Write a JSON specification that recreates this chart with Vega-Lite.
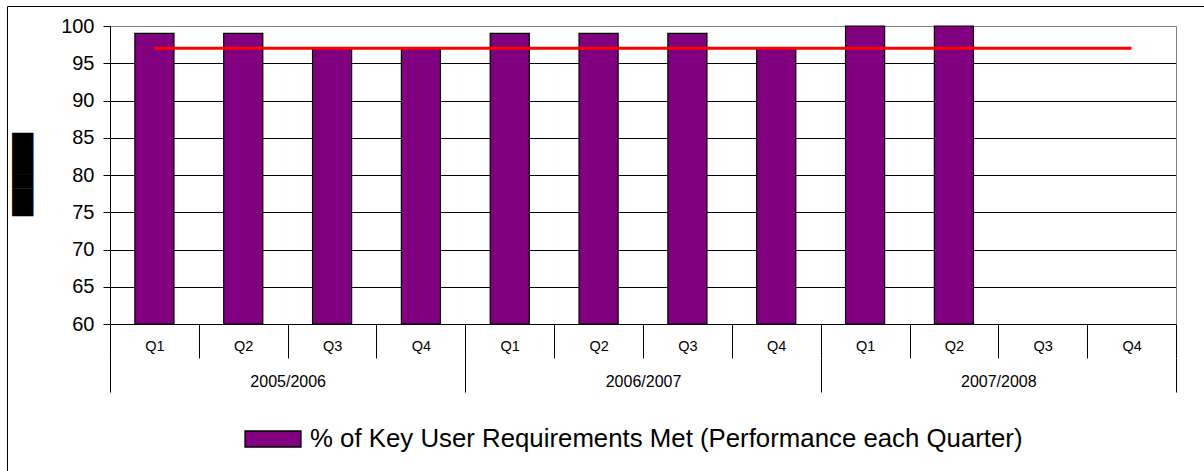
{
  "$schema": "https://vega.github.io/schema/vega-lite/v6.json",
  "width": 1200,
  "height": 470,
  "autosize": {"type": "none"},
  "padding": {"left": 7, "top": 6, "right": 0, "bottom": 0},
  "background": "#ffffff",
  "config": {
    "view": {"stroke": "#000000", "strokeWidth": 1},
    "font": "Liberation Sans",
    "axis": {"labelFont": "Liberation Sans", "labelColor": "#000000", "tickColor": "#000000", "domainColor": "#000000"}
  },
  "layer": [
    {
      "data": {
        "values": [
          {"key": "2005/2006 Q1", "pct": 99, "target": 97, "series": "% of Key User Requirements Met (Performance each Quarter)"},
          {"key": "2005/2006 Q2", "pct": 99, "target": 97, "series": "% of Key User Requirements Met (Performance each Quarter)"},
          {"key": "2005/2006 Q3", "pct": 97, "target": 97, "series": "% of Key User Requirements Met (Performance each Quarter)"},
          {"key": "2005/2006 Q4", "pct": 97, "target": 97, "series": "% of Key User Requirements Met (Performance each Quarter)"},
          {"key": "2006/2007 Q1", "pct": 99, "target": 97, "series": "% of Key User Requirements Met (Performance each Quarter)"},
          {"key": "2006/2007 Q2", "pct": 99, "target": 97, "series": "% of Key User Requirements Met (Performance each Quarter)"},
          {"key": "2006/2007 Q3", "pct": 99, "target": 97, "series": "% of Key User Requirements Met (Performance each Quarter)"},
          {"key": "2006/2007 Q4", "pct": 97, "target": 97, "series": "% of Key User Requirements Met (Performance each Quarter)"},
          {"key": "2007/2008 Q1", "pct": 100, "target": 97, "series": "% of Key User Requirements Met (Performance each Quarter)"},
          {"key": "2007/2008 Q2", "pct": 100, "target": 97, "series": "% of Key User Requirements Met (Performance each Quarter)"},
          {"key": "2007/2008 Q3", "pct": null, "target": 97, "series": "% of Key User Requirements Met (Performance each Quarter)"},
          {"key": "2007/2008 Q4", "pct": null, "target": 97, "series": "% of Key User Requirements Met (Performance each Quarter)"}
        ]
      },
      "encoding": {
        "x": {
          "field": "key",
          "type": "nominal",
          "sort": null,
          "scale": {"range": [103, 1169], "paddingInner": 0, "paddingOuter": 0},
          "axis": {
            "orient": "bottom",
            "offset": -152,
            "tickBand": "extent",
            "tickSize": 34,
            "labelExpr": "split(datum.label, ' ')[1]",
            "labelFontSize": 14.5,
            "labelPadding": -19,
            "labelAngle": 0,
            "title": null,
            "grid": false
          }
        }
      },
      "layer": [
        {
          "mark": {"type": "bar", "width": {"band": 0.44}, "stroke": "#000000", "strokeWidth": 1.2},
          "encoding": {
            "y": {
              "field": "pct",
              "type": "quantitative",
              "scale": {"domain": [60, 100], "range": [318, 20], "zero": false, "nice": false},
              "axis": {
                "orient": "left",
                "offset": -103,
                "values": [60, 65, 70, 75, 80, 85, 90, 95, 100],
                "tickSize": 7,
                "labelFontSize": 20,
                "labelPadding": 9,
                "grid": true,
                "gridColor": {"condition": {"test": "datum.value === 100", "value": "#808080"}, "value": "#000000"},
                "gridOpacity": 1,
                "title": "██████",
                "titleFont": "DejaVu Sans",
                "titleFontSize": 18,
                "titleColor": "#000000",
                "titleAngle": -90,
                "titleX": -87,
                "titleY": 168,
                "titleAlign": "center",
                "titleBaseline": "middle"
              }
            },
            "y2": {"datum": 60},
            "color": {
              "field": "series",
              "type": "nominal",
              "scale": {"range": ["#800080"]},
              "legend": {
                "orient": "none",
                "legendX": 237,
                "legendY": 404,
                "title": null,
                "padding": 0,
                "symbolType": "M-1,-0.2857L1,-0.2857L1,0.2857L-1,0.2857Z",
                "symbolSize": 3136,
                "symbolStrokeColor": "#000000",
                "symbolStrokeWidth": 1.3,
                "symbolOpacity": 1,
                "labelFont": "Liberation Sans",
                "labelFontSize": 25.8,
                "labelColor": "#000000",
                "labelOffset": 8,
                "labelLimit": 0
              }
            }
          }
        },
        {
          "mark": {"type": "line", "color": "#FF0000", "strokeWidth": 3},
          "encoding": {
            "y": {"field": "target", "type": "quantitative"}
          }
        }
      ]
    },
    {
      "data": {
        "values": [
          {"year": "2005/2006", "base": 60},
          {"year": "2006/2007", "base": 60},
          {"year": "2007/2008", "base": 60}
        ]
      },
      "mark": {"type": "point", "opacity": 0},
      "encoding": {
        "x": {
          "field": "year",
          "type": "nominal",
          "sort": null,
          "scale": {"range": [103, 1169], "paddingInner": 0, "paddingOuter": 0},
          "axis": {
            "orient": "bottom",
            "offset": -118,
            "tickBand": "extent",
            "tickSize": 34,
            "domain": false,
            "labelFontSize": 16,
            "labelPadding": -19,
            "labelAngle": 0,
            "title": null,
            "grid": false
          }
        },
        "y": {
          "field": "base",
          "type": "quantitative",
          "scale": {"domain": [60, 100], "range": [318, 20], "zero": false, "nice": false},
          "axis": {
            "orient": "right",
            "offset": -31,
            "domainColor": "#808080",
            "labels": false,
            "ticks": false,
            "grid": false,
            "title": null
          }
        }
      }
    }
  ],
  "resolve": {
    "scale": {"x": "independent"},
    "axis": {"x": "independent", "y": "independent"}
  }
}
